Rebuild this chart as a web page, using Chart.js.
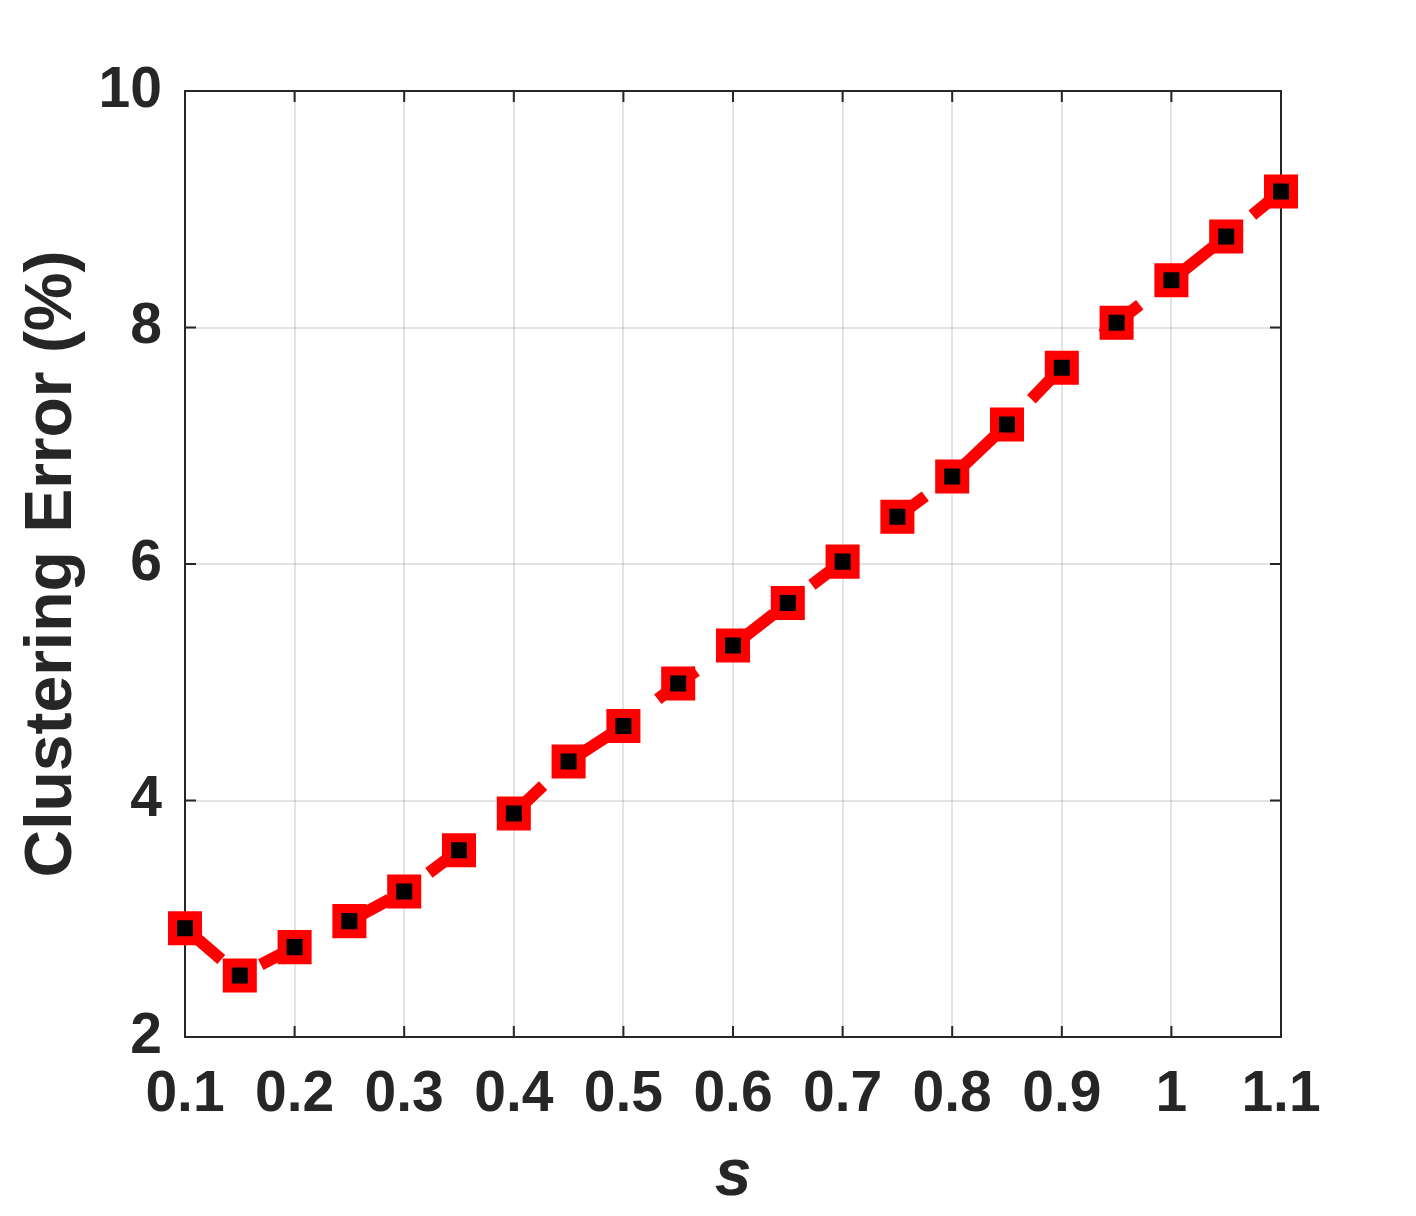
<!DOCTYPE html>
<html>
<head>
<meta charset="utf-8">
<script src="https://cdn.jsdelivr.net/npm/chart.js@4"></script>
<style>
  html, body { margin: 0; padding: 0; background: #fff; }
  #wrap { width: 1416px; height: 1216px; }
</style>
</head>
<body>
<div id="wrap"><canvas id="chart" width="1416" height="1216"></canvas></div>
<script>
// valores
const sValues = [0.1, 0.15, 0.2, 0.25, 0.3, 0.35, 0.4, 0.45, 0.5, 0.55, 0.6, 0.65, 0.7, 0.75, 0.8, 0.85, 0.9, 0.95, 1.0, 1.05, 1.1];
const errorValues = [2.92, 2.52, 2.76, 2.98, 3.23, 3.58, 3.89, 4.33, 4.63, 4.99, 5.31, 5.67, 6.02, 6.40, 6.74, 7.18, 7.66, 8.04, 8.40, 8.77, 9.15];
const xTicks = [0.1, 0.2, 0.3, 0.4, 0.5, 0.6, 0.7, 0.8, 0.9, 1.0, 1.1];
const xTickLabels = ['0.1', '0.2', '0.3', '0.4', '0.5', '0.6', '0.7', '0.8', '0.9', '1', '1.1'];
const yTicks = [2, 4, 6, 8, 10];
const yTickLabels = ['2', '4', '6', '8', '10'];

const AXIS_COLOR = '#262626';
const FONT = '"Liberation Sans", Arial, sans-serif';

// caja de ejes estilo MATLAB, con marcas hacia dentro
const boxPlugin = {
  id: 'matlabBox',
  beforeDatasetsDraw(chart) {
    const { ctx, chartArea: a, scales } = chart;
    ctx.save();
    ctx.strokeStyle = AXIS_COLOR;
    ctx.lineWidth = 2;
    ctx.strokeRect(a.left, a.top, a.right - a.left, a.bottom - a.top);
    const len = 11;
    ctx.beginPath();
    scales.x.ticks.forEach(t => {
      const px = scales.x.getPixelForValue(t.value);
      ctx.moveTo(px, a.bottom); ctx.lineTo(px, a.bottom - len);
      ctx.moveTo(px, a.top); ctx.lineTo(px, a.top + len);
    });
    scales.y.ticks.forEach(t => {
      const py = scales.y.getPixelForValue(t.value);
      ctx.moveTo(a.left, py); ctx.lineTo(a.left + len, py);
      ctx.moveTo(a.right, py); ctx.lineTo(a.right - len, py);
    });
    ctx.stroke();
    ctx.restore();
  }
};

const data = {
  datasets: [{
    data: sValues.map((s, i) => ({ x: s, y: errorValues[i] })),
    borderColor: '#ff0000',
    borderWidth: 12,
    borderDash: [48, 48],
    pointStyle: 'rect',
    pointRadius: 17.7,
    pointBorderWidth: 9,
    pointBackgroundColor: '#000000',
    pointBorderColor: '#ff0000',
    tension: 0,
    clip: false
  }]
};

new Chart(document.getElementById('chart'), {
  type: 'line',
  data,
  plugins: [boxPlugin],
  options: {
    responsive: false,
    animation: false,
    layout: { padding: { left: 0, right: 135, top: 91, bottom: 0 } },
    plugins: { legend: { display: false }, tooltip: { enabled: false } },
    scales: {
      x: {
        type: 'linear',
        min: 0.1,
        max: 1.1,
        afterBuildTicks: scale => { scale.ticks = xTicks.map(v => ({ value: v })); },
        afterFit: scale => { scale.height = 179; },
        ticks: {
          autoSkip: false,
          maxRotation: 0,
          padding: 24,
          color: AXIS_COLOR,
          font: { family: FONT, size: 57, weight: 'bold' },
          callback: (v, i) => xTickLabels[i]
        },
        grid: { color: 'rgba(38,38,38,0.13)', lineWidth: 2, drawTicks: false },
        border: { display: false },
        title: {
          display: true,
          text: 's',
          color: AXIS_COLOR,
          font: { family: FONT, size: 66, weight: 'bold', style: 'italic' },
          padding: { top: 0, bottom: 0 }
        }
      },
      y: {
        type: 'linear',
        min: 2,
        max: 10,
        afterBuildTicks: scale => { scale.ticks = yTicks.map(v => ({ value: v })); },
        afterFit: scale => { scale.width = 185; },
        ticks: {
          padding: 23,
          color: AXIS_COLOR,
          font: { family: FONT, size: 57, weight: 'bold' },
          callback: (v, i) => yTickLabels[i]
        },
        grid: { color: 'rgba(38,38,38,0.13)', lineWidth: 2, drawTicks: false },
        border: { display: false },
        title: {
          display: true,
          text: 'Clustering Error (%)',
          color: AXIS_COLOR,
          font: { family: FONT, size: 66, weight: 'bold' },
          padding: { top: 13, bottom: 0 }
        }
      }
    }
  }
});
</script>
</body>
</html>
